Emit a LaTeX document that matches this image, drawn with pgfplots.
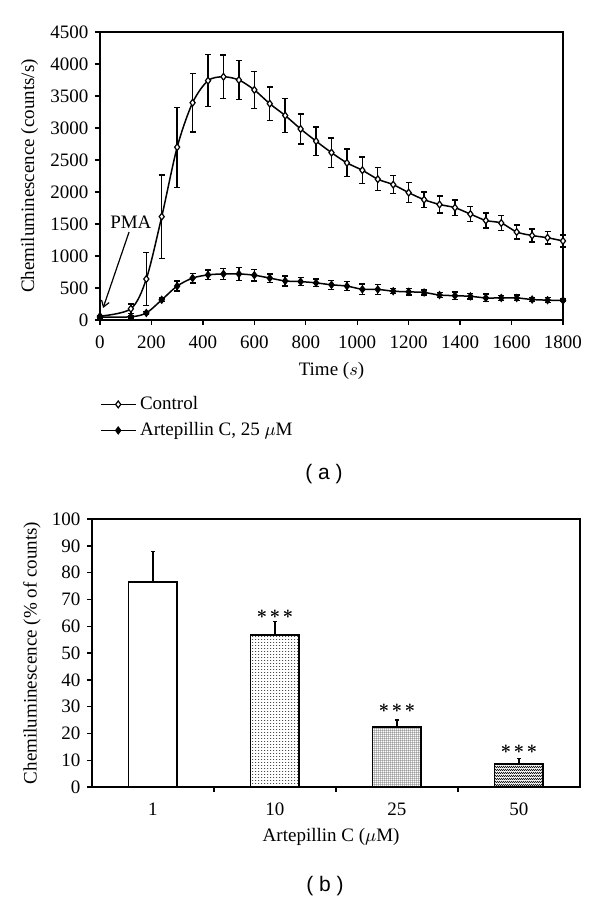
\documentclass[border=0pt]{standalone}
\usepackage{pgfplots}
\pgfplotsset{compat=1.18}
\usepackage{fontspec}
\setmainfont{Liberation Serif}
\newfontfamily\sansf{Liberation Sans}
\usetikzlibrary{arrows.meta,patterns.meta}

\tikzdeclarepattern{name=pten, type=uncolored,
  bounding box={(0pt,0pt) and (1.5pt,1.5pt)}, tile size={(1.5pt,1.5pt)},
  code={\fill (0pt,0pt) rectangle (0.8pt,0.55pt);}}
\tikzdeclarepattern{name=ptwentyfive, type=uncolored,
  bounding box={(0pt,0pt) and (1.2pt,1.2pt)}, tile size={(1.2pt,1.2pt)},
  code={\fill (0pt,0pt) rectangle (1.2pt,0.3pt); \fill (0pt,0pt) rectangle (0.3pt,1.2pt);}}
\tikzdeclarepattern{name=pfifty, type=uncolored,
  bounding box={(0pt,0pt) and (1.2pt,1.2pt)}, tile size={(1.2pt,1.2pt)},
  code={\fill (0pt,0pt) rectangle (0.7pt,0.7pt); \fill (0.6pt,0.6pt) rectangle (1.2pt,1.2pt);}}

\pgfplotstableread{
t c ce a ae
0 60 0 45 20
120 175 75 50 20
180 640 415 110 25
240 1615 650 315 30
300 2700 625 530 80
360 3395 460 655 75
420 3740 405 705 75
480 3800 340 720 85
540 3750 305 720 105
600 3595 290 700 90
660 3380 260 655 65
720 3195 265 610 80
780 2985 235 600 60
840 2795 220 580 60
900 2615 230 550 70
960 2455 215 530 70
1020 2340 205 480 80
1080 2200 180 478 80
1140 2115 140 450 40
1200 1990 155 440 50
1260 1880 120 430 40
1320 1805 130 390 35
1380 1755 120 380 60
1440 1655 120 370 40
1500 1555 115 345 60
1560 1515 120 345 40
1620 1375 110 345 45
1680 1320 100 320 30
1740 1285 95 310 40
1800 1235 95 305 20
}\timecourse

\begin{document}
\fontsize{9.5}{11.5}\selectfont
\begin{tikzpicture}
\path[use as bounding box] (0pt,0pt) rectangle (300pt,450.5pt);

\begin{axis}[
  at={(50pt,290.5pt)}, anchor=south west,
  scale only axis, width=231.5pt, height=144pt,
  xmin=0, xmax=1800, ymin=0, ymax=4500,
  xtick={0,200,...,1800}, ytick={0,500,...,4500},
  /pgf/number format/1000 sep={},
  /pgf/number format/assume math mode=true,
  tick align=outside, xtick pos=bottom, ytick pos=left,
  major tick length=2.5pt,
  tick style={black, line width=0.7pt},
  axis line style={line width=0.8pt},
  ticklabel style={font=\fontsize{9.5}{11.5}\selectfont},
  xticklabel style={yshift=-2pt},
  xlabel={Time ($s$)},
  ylabel={Chemiluminescence (counts/s)},
  xlabel style={at={(axis description cs:0.5,-0.177)}, anchor=center},
  ylabel style={at={(axis description cs:-0.152,0.5)}, anchor=center},
  label style={font=\fontsize{9.5}{11.5}\selectfont},
  clip=false,
  legend style={draw=none, fill=none, at={(axis description cs:0,-0.25)}, anchor=north west,
    font=\fontsize{9.5}{11.5}\selectfont, row sep=1pt, inner sep=0pt},
  legend cell align=left,
]
\addplot[black, line width=0.75pt, smooth, mark=diamond*, mark size=1.7pt,
  mark options={fill=white, line width=0.6pt},
  error bars/.cd, y dir=both, y explicit,
  error bar style={line width=0.7pt}, error mark options={rotate=90, mark size=1.5pt, line width=0.7pt}]
  table[x=t, y=c, y error=ce] {\timecourse};
\addlegendentry{Control}
\addplot[black, line width=0.75pt, smooth, mark=diamond*, mark size=1.7pt,
  mark options={fill=black, line width=0.6pt},
  error bars/.cd, y dir=both, y explicit,
  error bar style={line width=0.7pt}, error mark options={rotate=90, mark size=1.5pt, line width=0.7pt}]
  table[x=t, y=a, y error=ae] {\timecourse};
\addlegendentry{Artepillin C, 25 $\mu$M}
\node at (axis cs:120,1531) {PMA};
\draw[-{Straight Barb[length=3pt,width=4pt]}, line width=0.6pt] (axis cs:113,1375) -- (axis cs:12,188);
\end{axis}

\node[font=\sansf\fontsize{10.5}{12}\selectfont] at (162pt,213.5pt) {( a )};

\begin{axis}[
  at={(46pt,57pt)}, anchor=south west,
  scale only axis, width=244pt, height=134pt,
  xmin=0.5, xmax=4.5, ymin=0, ymax=100,
  xtick={1,2,3,4}, xticklabels={1,10,25,50},
  minor xtick={1.5,2.5,3.5},
  ytick={0,10,...,100},
  /pgf/number format/assume math mode=true,
  tick align=outside, xtick pos=bottom, ytick pos=left,
  major tick length=2.5pt, minor tick length=2.5pt,
  major x tick style={draw=none},
  tick style={black, line width=0.7pt},
  axis line style={line width=0.8pt},
  ticklabel style={font=\fontsize{9.5}{11.5}\selectfont},
  xticklabel style={yshift=-2pt},
  xlabel={Artepillin C ($\mu$M)},
  ylabel={Chemiluminescence (\% of counts)},
  xlabel style={at={(axis description cs:0.49,-0.187)}, anchor=center},
  ylabel style={at={(axis description cs:-0.123,0.5)}, anchor=center},
  label style={font=\fontsize{9.5}{11.5}\selectfont},
  clip=false,
  ybar, bar width=24.3pt,
]
\addplot[bar shift=0pt, draw=black, line width=0.8pt, fill=white,
  error bars/.cd, y dir=plus, y explicit,
  error bar style={line width=0.8pt}, error mark options={rotate=90, mark size=1.1pt, line width=0.8pt}]
  coordinates {(1,76.5) +- (0,11.3)};
\addplot[bar shift=0pt, draw=black, line width=0.8pt, pattern=pten, pattern color=black!70,
  error bars/.cd, y dir=plus, y explicit,
  error bar style={line width=0.8pt}, error mark options={rotate=90, mark size=1.1pt, line width=0.8pt}]
  coordinates {(2,56.7) +- (0,5.1)};
\addplot[bar shift=0pt, draw=black, line width=0.8pt, pattern=ptwentyfive, pattern color=black!65,
  error bars/.cd, y dir=plus, y explicit,
  error bar style={line width=0.8pt}, error mark options={rotate=90, mark size=1.1pt, line width=0.8pt}]
  coordinates {(3,22.3) +- (0,2.7)};
\addplot[bar shift=0pt, draw=black, line width=0.8pt, pattern=pfifty, pattern color=black!90,
  error bars/.cd, y dir=plus, y explicit,
  error bar style={line width=0.8pt}, error mark options={rotate=90, mark size=1.1pt, line width=0.8pt}]
  coordinates {(4,8.5) +- (0,2.1)};
\node[font=\boldmath] at (axis cs:2,64.4) {${\ast}\mkern2mu{\ast}\mkern2mu{\ast}$};
\node[font=\boldmath] at (axis cs:3,29.4) {${\ast}\mkern2mu{\ast}\mkern2mu{\ast}$};
\node[font=\boldmath] at (axis cs:4,14) {${\ast}\mkern2mu{\ast}\mkern2mu{\ast}$};
\end{axis}

\node[font=\sansf\fontsize{10.5}{12}\selectfont] at (162.5pt,7.5pt) {( b )};
\end{tikzpicture}
\end{document}
